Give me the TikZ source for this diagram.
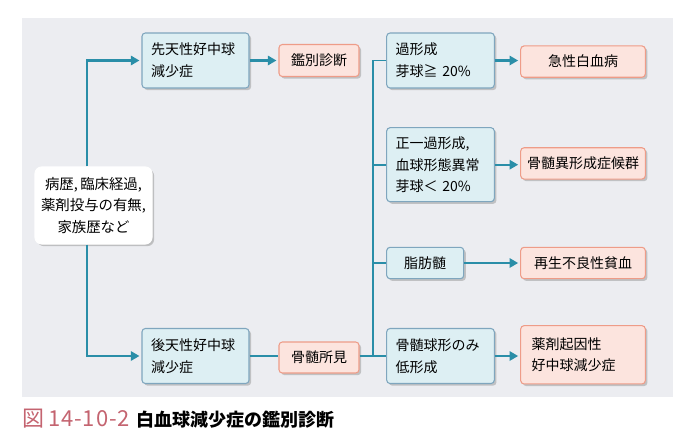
\documentclass[tikz,border=0pt]{standalone}
\usepackage{fontspec}
\setmainfont{Noto Sans CJK JP}
\usetikzlibrary{shadows,arrows.meta}
\definecolor{bgc}{HTML}{ECEDF1}
\definecolor{bluefill}{HTML}{DDEFF3}
\definecolor{bluebd}{HTML}{7FA6BE}
\definecolor{pinkfill}{HTML}{FCE4DE}
\definecolor{pinkbd}{HTML}{EE9C88}
\definecolor{teal}{HTML}{2A8EA8}
\definecolor{capred}{HTML}{C46470}
\begin{document}
\begin{tikzpicture}[x=0.75pt,y=-0.75pt,
  base/.style={rectangle,rounded corners=2.5pt,line width=0.8pt,font=\fontsize{10.5}{16.3}\selectfont,
    drop shadow={shadow xshift=1.6pt,shadow yshift=-1.6pt,fill=black!45,opacity=0.45}},
  bluebox/.style={base,draw=bluebd,fill=bluefill},
  pinkbox/.style={base,draw=pinkbd,fill=pinkfill},
  whitebox/.style={base,draw=white,fill=white,rounded corners=5pt,
    drop shadow={shadow xshift=1pt,shadow yshift=-1pt,fill=black!30,opacity=0.3}},
  conn/.style={draw=teal,line width=1.3pt},
  arr/.style={conn,line width=1.7pt,-{Triangle[length=6.5pt,width=7pt]},shorten >=1.5pt},
]
\useasboundingbox (0,0) rectangle (695,436);
\fill[bgc] (22,18) rectangle (673,397);

% left
\node[whitebox,minimum width=117*0.75pt,minimum height=77*0.75pt,align=center,inner sep=0pt,
  font=\fontsize{10.8}{16}\selectfont] (st) at (93.5,205.5)
  {病歴,\,臨床経過,\\薬剤投与の有無,\\家族歴など};

\node[bluebox,minimum width=107*0.75pt,minimum height=55*0.75pt,text width=107*0.75pt-13.5pt,align=left,inner xsep=6.75pt] (c1) at (195.5,60.5)
  {先天性好中球\\減少症};
\node[bluebox,minimum width=107*0.75pt,minimum height=55*0.75pt,text width=107*0.75pt-13.5pt,align=left,inner xsep=6.75pt] (c2) at (195.5,356)
  {後天性好中球\\減少症};

\node[pinkbox,minimum width=80*0.75pt,minimum height=32*0.75pt] (dd) at (319,60.5) {鑑別診断};
\node[pinkbox,minimum width=80*0.75pt,minimum height=31*0.75pt] (mr) at (319,357.5) {骨髄所見};

% middle-right blue
\node[bluebox,minimum width=107.6*0.75pt,minimum height=55*0.75pt,text width=107.6*0.75pt-13.5pt,align=left,inner xsep=6.75pt] (b1) at (440.5,60.5)
  {過形成\\芽球≧ 20\%};
\node[bluebox,minimum width=107.6*0.75pt,minimum height=74*0.75pt,text width=107.6*0.75pt-13.5pt,align=left,inner xsep=6.75pt] (b2) at (440.5,164.7)
  {正一過形成,\\血球形態異常\\芽球＜ 20\%};
\node[bluebox,minimum width=77*0.75pt,minimum height=31.4*0.75pt] (b3) at (425.2,263) {脂肪髄};
\node[bluebox,minimum width=107.6*0.75pt,minimum height=55*0.75pt,text width=107.6*0.75pt-13.5pt,align=left,inner xsep=6.75pt] (b4) at (440.5,356)
  {骨髄球形のみ\\低形成};

% right pink
\node[pinkbox,minimum width=124.6*0.75pt,minimum height=31.3*0.75pt] (r1) at (583,61.6) {急性白血病};
\node[pinkbox,minimum width=124.6*0.75pt,minimum height=31.3*0.75pt] (r2) at (583,163.4) {骨髄異形成症候群};
\node[pinkbox,minimum width=124.6*0.75pt,minimum height=31.4*0.75pt] (r3) at (583,263) {再生不良性貧血};
\node[pinkbox,minimum width=124.6*0.75pt,minimum height=58.3*0.75pt,text width=124.6*0.75pt-16.5pt,align=left,inner xsep=8.25pt] (r4) at (583,354.8)
  {薬剤起因性\\好中球減少症};

% connectors
\coordinate (lx) at (86.7,0);
\coordinate (tx) at (373,0);
\draw[arr] (st.north -| lx) |- (c1.west);
\draw[arr] (st.south -| lx) |- (c2.west);
\draw[arr] (c1.east) -- (dd.west);
\draw[conn,line width=1.8pt] (c2.east) -- (c2.east -| mr.west);
\draw[conn] (b1.west) -- (b1.west -| tx) -- (b4.west -| tx);
\draw[conn] (b2.west) -- (b2.west -| tx);
\draw[conn] (b3.west) -- (b3.west -| tx);
\draw[conn] (mr.east |- b4.west) -- (b4.west);
\draw[arr] (b1.east) -- (b1.east -| r1.west);
\draw[arr] (b2.east) -- (b2.east -| r2.west);
\draw[arr] (b3.east) -- (r3.west);
\draw[arr] (b4.east) -- (b4.east -| r4.west);

% caption
\node[anchor=west,inner sep=0pt] (cap) at (22,419) {{\color{capred}\fontsize{16.5}{18}\selectfont 図\hspace{3pt}\addfontfeatures{LetterSpace=4}14-10-2}\hspace{5pt}{\fontsize{13.5}{16}\selectfont\bfseries 白血球減少症の鑑別診断}};
\end{tikzpicture}
\end{document}
